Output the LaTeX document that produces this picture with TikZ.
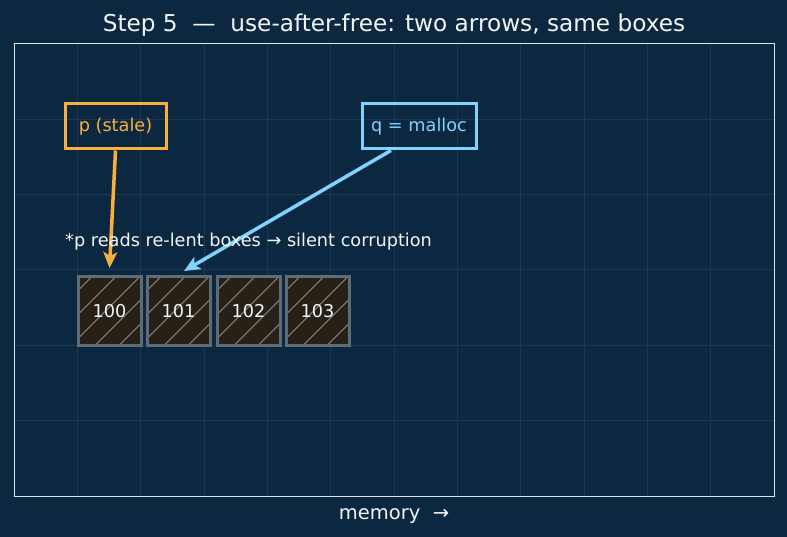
\documentclass[tikz,border=0pt]{standalone}
\usepackage{fontspec}
\setmainfont{DejaVu Sans}
\usetikzlibrary{arrows.meta,calc}
\definecolor{bgc}{HTML}{0C2841}
\definecolor{gridc}{HTML}{1B3852}
\definecolor{framec}{HTML}{DCE6EE}
\definecolor{orangec}{HTML}{F7B040}
\definecolor{bluec}{HTML}{7FD3FF}
\definecolor{cellfill}{HTML}{272017}
\definecolor{celledge}{HTML}{5E6C78}
\definecolor{hatchc}{HTML}{7A746A}
\definecolor{txtc}{HTML}{F2F5F8}
\tikzset{
 lbl/.style={font=\fontsize{17.7}{20}\selectfont},
 ptr/.style={draw, line width=3pt, minimum width=101pt, minimum height=45pt, inner sep=0pt, lbl},
 cell/.style={draw=celledge, line width=3pt, minimum width=63pt, minimum height=68pt, inner sep=0pt, text=txtc, lbl},
 arr/.style={line width=3.5pt, -{Stealth[length=16pt,width=14pt,inset=4pt]}},
 gridline/.style={gridc, line width=1pt},
}
\begin{document}
\begin{tikzpicture}[x=1pt,y=-1pt]
\fill[bgc] (0,0) rectangle (787,537);
\useasboundingbox (0,0) rectangle (787,537);
\foreach \i in {1,...,11} \draw[gridline] ({14+63.333*\i},44) -- ({14+63.333*\i},496);
\foreach \j in {1,...,5} \draw[gridline] (14,{44+75.333*\j}) -- (774,{44+75.333*\j});
\draw[framec, line width=1pt] (14,44) rectangle (774,496);
\foreach \cx/\t [count=\k] in {109.5/100,178.5/101,248.5/102,317.5/103} {
  \fill[cellfill] ({\cx-31.5},277) rectangle ({\cx+31.5},345);
  \begin{scope}
    \clip ({\cx-31.5},277) rectangle ({\cx+31.5},345);
    \foreach \s in {-100,-76,...,100}
      \draw[hatchc, line width=1.2pt] ({\cx+\s-40},351) -- ({\cx+\s+40},271);
  \end{scope}
  \node[cell] (c\k) at (\cx,311) {\t};
}
\node[ptr, draw=orangec, text=orangec] (p) at (115.5,126.5) {p (stale)};
\node[ptr, draw=bluec, text=bluec, minimum width=114pt] (q) at (419,126.5) {q = malloc};
\coordinate (pt) at (109.5,268);
\coordinate (qt) at (184,271);
\draw[arr, orangec] (p.south) -- (pt);
\draw[arr, bluec] ($(q.south west)!0.26!(q.south east)$) -- (qt);
\node[lbl, text=txtc, anchor=base west, inner sep=0pt] (note) at (65,247) {*p reads re-lent boxes → silent corruption};
\node[font=\fontsize{23.2}{26}\selectfont, text=txtc, anchor=base, inner sep=0pt] (title) at (394,32) {Step 5\ \ —\ \ use-after-free: two arrows, same boxes};
\node[font=\fontsize{19.5}{22}\selectfont, text=txtc, anchor=base, inner sep=0pt] (xl) at (394,519) {memory\ \ →};
\end{tikzpicture}
\end{document}
